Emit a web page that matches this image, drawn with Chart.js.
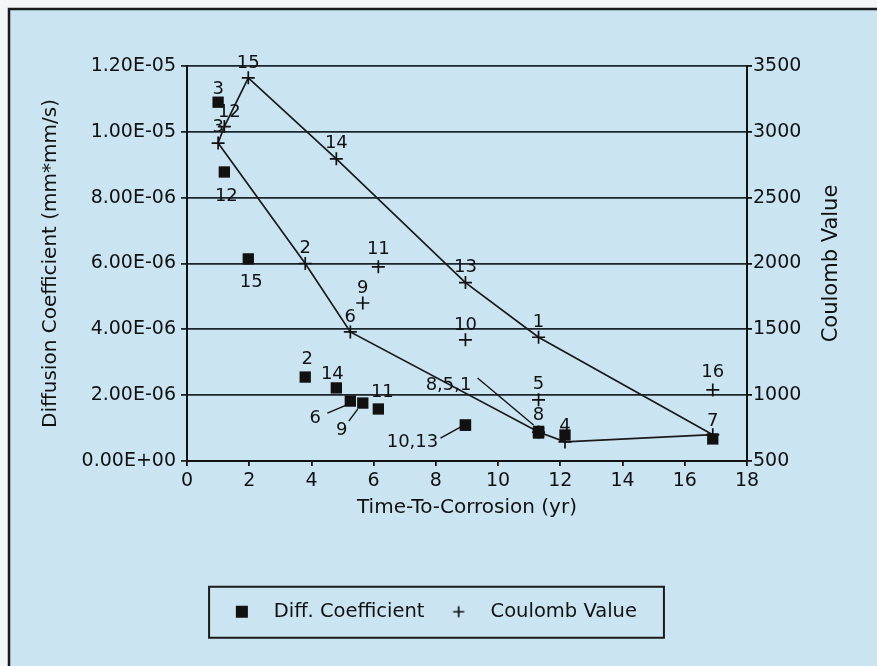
<!DOCTYPE html>
<html>
<head>
<meta charset="utf-8">
<script src="https://cdn.jsdelivr.net/npm/chart.js@4.4.1/dist/chart.umd.min.js"></script>
<style>
  html, body { margin: 0; padding: 0; background: #f3f6f7; }
</style>
</head>
<body>
<canvas id="myChart" width="877" height="666"></canvas>
<script>
// sample numbers 1..16
const sampleIds = [1, 2, 3, 4, 5, 6, 7, 8, 9, 10, 11, 12, 13, 14, 15, 16];
const timeToCorrosion = [11.3, 3.8, 1.0, 12.15, 11.3, 5.25, 16.9, 11.3, 5.65, 8.95, 6.15, 1.2, 8.95, 4.8, 1.97, 16.9];
const diffCoefficient = [0.9e-6, 2.55e-6, 10.9e-6, 0.79e-6, 0.85e-6, 1.82e-6, 0.67e-6, 0.88e-6, 1.76e-6, 1.09e-6, 1.58e-6, 8.78e-6, 1.09e-6, 2.22e-6, 6.14e-6, null];
const coulombValue = [1440, 2000, 2915, 645, 965, 1480, 700, 720, 1700, 1420, 1975, 3040, 1855, 2795, 3410, 1040];
const diffLabels = ['', '2', '3', '', '', '6', '', '8,5,1', '9', '10,13', '11', '12', '', '14', '15', ''];
const coulombLabels = sampleIds.map(String);
const upperEnvelope = [3, 12, 15, 14, 13, 1, 7];
const lowerEnvelope = [3, 2, 6, 8, 4, 7];

const INK = '#111111';
const FONT = 'DejaVu Sans';

// label placement (pixels from the point)
const labelOffsets = {
  diff: { '3': [0, -13], '12': [2, 24], '15': [3, 23], '2': [2, -18], '14': [-4, -14], '6': [-35, 17],
          '9': [-21, 27], '11': [4, -17], '10,13': [-53, 17], '8,5,1': [-90, -47] },
  coulomb: { '12': [5, -14], '16': [0, -18], '11': [0, -17], '8': [0, -17], '4': [0, -16], '7': [0, -13], '3': [0, -16] }
};
const leaders = {
  '6': [[-23, 12], [-4, 4]],
  '9': [[-14, 18], [-5, 6]],
  '10,13': [[-25, 13], [-5, 2]],
  '8,5,1': [[-61, -54], [-5, -7]]
};

const diffPoints = sampleIds.map((id, i) => ({ x: timeToCorrosion[i], y: diffCoefficient[i] }));
const coulombPoints = sampleIds.map((id, i) => ({ x: timeToCorrosion[i], y: coulombValue[i] }));
const envelope = ids => ids.map(id => ({ x: timeToCorrosion[id - 1], y: coulombValue[id - 1] }));

function sciLabel(v) {
  const parts = Number(v).toExponential(2).split('e');
  const n = parseInt(parts[1], 10);
  return parts[0] + 'E' + (n < 0 ? '-' : '+') + String(Math.abs(n)).padStart(2, '0');
}

function markerCanvas(kind) {
  const c = document.createElement('canvas');
  c.width = 14; c.height = 14;
  const g = c.getContext('2d');
  g.fillStyle = INK; g.strokeStyle = INK; g.lineWidth = 1.7;
  if (kind === 'square') g.fillRect(1, 1, 12, 12);
  else { g.beginPath(); g.moveTo(7, 1.5); g.lineTo(7, 12.5); g.moveTo(1.5, 7); g.lineTo(12.5, 7); g.stroke(); }
  return c;
}

const framePlugin = {
  id: 'frame',
  beforeDraw(chart) {
    const ctx = chart.ctx;
    ctx.save();
    ctx.fillStyle = '#f3f6f7';
    ctx.fillRect(0, 0, chart.width, chart.height);
    ctx.fillStyle = '#cae4f2';
    ctx.fillRect(9, 9, chart.width - 9, chart.height - 9);
    ctx.strokeStyle = '#1a1a1a';
    ctx.lineWidth = 2.5;
    ctx.beginPath();
    ctx.moveTo(9, chart.height); ctx.lineTo(9, 9); ctx.lineTo(chart.width, 9);
    ctx.stroke();
    ctx.restore();
  },
  afterDraw(chart) {
    const ctx = chart.ctx;
    ctx.save();
    // right axis title, reading bottom to top
    const y2 = chart.scales.y2;
    ctx.translate(832, (y2.top + y2.bottom) / 2);
    ctx.rotate(-Math.PI / 2);
    ctx.fillStyle = INK;
    ctx.font = '21px "' + FONT + '"';
    ctx.textAlign = 'center';
    ctx.textBaseline = 'middle';
    ctx.fillText('Coulomb Value', 0, 0);
    ctx.restore();

    // legend frame
    const hb = chart.legend.legendHitBoxes;
    if (hb && hb.length) {
      const cy = hb[0].top + hb[0].height / 2;
      const left = hb[0].left - 23;
      const right = hb[hb.length - 1].left + hb[hb.length - 1].width + 27;
      ctx.save();
      ctx.strokeStyle = '#1a1a1a';
      ctx.lineWidth = 2;
      ctx.strokeRect(left, cy - 25, right - left, 51);
      ctx.restore();
    }
  }
};

const pointLabelPlugin = {
  id: 'pointLabels',
  afterDatasetsDraw(chart) {
    const ctx = chart.ctx;
    ctx.save();
    ctx.fillStyle = INK;
    ctx.strokeStyle = INK;
    ctx.lineWidth = 1.4;
    ctx.font = '18px "' + FONT + '"';
    ctx.textAlign = 'center';
    ctx.textBaseline = 'middle';
    [[0, diffLabels, labelOffsets.diff], [1, coulombLabels, labelOffsets.coulomb]].forEach(([di, texts, offs]) => {
      const meta = chart.getDatasetMeta(di);
      meta.data.forEach((el, i) => {
        const t = texts[i];
        if (!t || el.skip || chart.data.datasets[di].data[i].y == null) return;
        const o = offs[t] || [0, -15];
        ctx.fillText(t, el.x + o[0], el.y + o[1]);
        if (di === 0 && leaders[t]) {
          const [a, b] = leaders[t];
          ctx.beginPath();
          ctx.moveTo(el.x + a[0], el.y + a[1]);
          ctx.lineTo(el.x + b[0], el.y + b[1]);
          ctx.stroke();
        }
      });
    });
    ctx.restore();
  }
};

const tickFont = { family: FONT, size: 19 };
const titleFont = { family: FONT, size: 20 };

new Chart(document.getElementById('myChart').getContext('2d'), {
  type: 'scatter',
  data: {
    datasets: [
      {
        label: 'Diff. Coefficient',
        data: diffPoints,
        yAxisID: 'y',
        pointStyle: 'rect',
        pointRadius: 8,
        backgroundColor: INK,
        borderColor: INK,
        borderWidth: 0,
        order: 1
      },
      {
        label: 'Coulomb Value',
        data: coulombPoints,
        yAxisID: 'y2',
        pointStyle: 'cross',
        pointRadius: 6.5,
        borderColor: INK,
        borderWidth: 1.7,
        order: 1
      },
      {
        label: 'upper',
        data: envelope(upperEnvelope),
        yAxisID: 'y2',
        showLine: true,
        pointRadius: 0,
        borderColor: '#1a1a1a',
        borderWidth: 1.7,
        order: 3
      },
      {
        label: 'lower',
        data: envelope(lowerEnvelope),
        yAxisID: 'y2',
        showLine: true,
        pointRadius: 0,
        borderColor: '#1a1a1a',
        borderWidth: 1.7,
        order: 3
      }
    ]
  },
  options: {
    responsive: false,
    devicePixelRatio: 1,
    animation: false,
    layout: { padding: { left: 10, right: 18, top: 66, bottom: 34.5 } },
    plugins: {
      tooltip: { enabled: false },
      legend: {
        position: 'bottom',
        labels: {
          usePointStyle: true,
          boxWidth: 20,
          boxHeight: 14,
          padding: 12,
          color: INK,
          font: { family: FONT, size: 19.5 },
          generateLabels: () => [
            { text: '  Diff. Coefficient  ', pointStyle: markerCanvas('square'), datasetIndex: 0, fontColor: INK, lineWidth: 0 },
            { text: '  Coulomb Value', pointStyle: markerCanvas('plus'), datasetIndex: 1, fontColor: INK, lineWidth: 0 }
          ]
        }
      }
    },
    scales: {
      x: {
        type: 'linear',
        min: 0,
        max: 18,
        ticks: { stepSize: 2, color: INK, font: tickFont, padding: 4, maxRotation: 0 },
        grid: { drawOnChartArea: false, drawTicks: true, tickLength: 5, color: INK, lineWidth: 1.8 },
        border: { display: true, color: INK, width: 2 },
        title: { display: true, text: 'Time-To-Corrosion (yr)', color: INK, font: titleFont, padding: { top: 4, bottom: 70 } },
        afterFit: s => { s.height = 129; }
      },
      y: {
        position: 'left',
        min: 0,
        max: 1.2e-5,
        ticks: { stepSize: 2e-6, color: INK, font: tickFont, padding: 5, callback: v => sciLabel(v) },
        grid: { drawOnChartArea: true, tickLength: 6, color: '#1b262d', lineWidth: 1.8 },
        border: { display: true, color: INK, width: 2 },
        title: { display: true, text: 'Diffusion Coefficient (mm*mm/s)', color: INK, font: titleFont, padding: { top: 29, bottom: 0 } },
        afterFit: s => { s.width = 177; }
      },
      y2: {
        position: 'right',
        min: 500,
        max: 3500,
        ticks: { stepSize: 500, color: INK, font: tickFont, padding: 1, callback: v => String(v) },
        grid: { drawOnChartArea: false, tickLength: 5, color: INK, lineWidth: 1.8 },
        border: { display: true, color: INK, width: 2 },
        afterFit: s => { s.width = 112; }
      }
    }
  },
  plugins: [framePlugin, pointLabelPlugin]
});
</script>
</body>
</html>
